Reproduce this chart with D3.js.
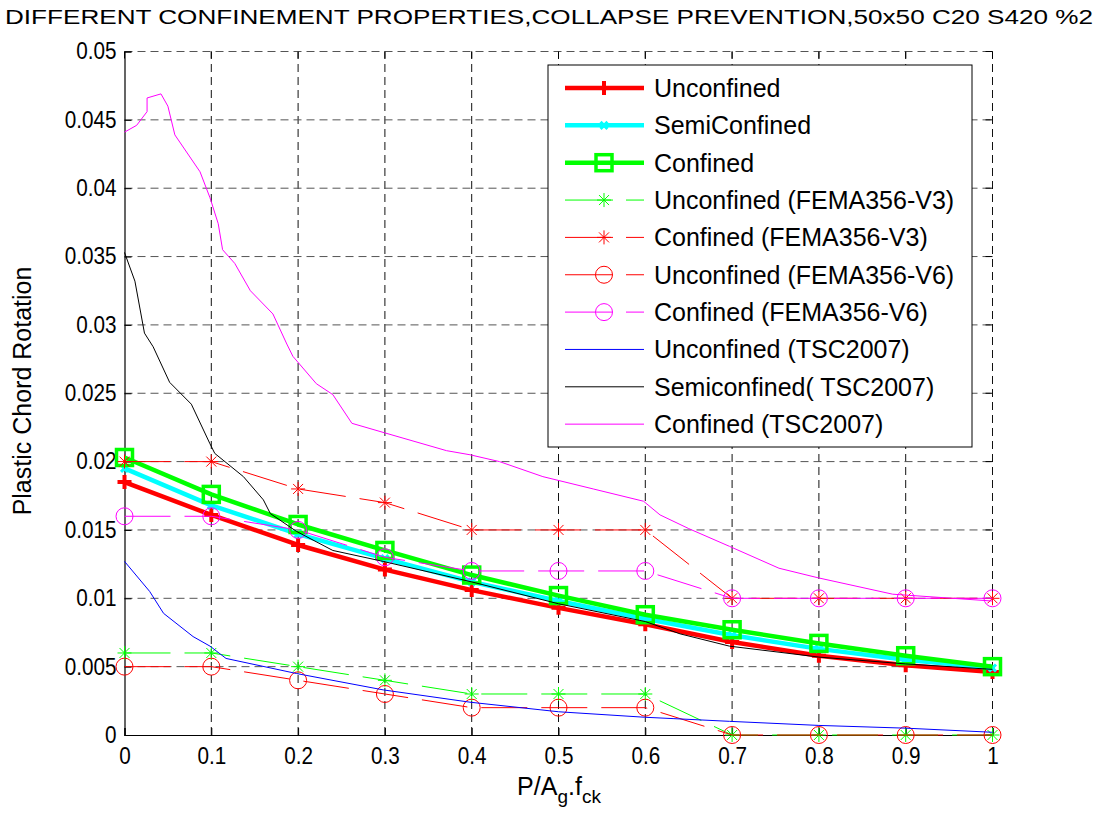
<!DOCTYPE html>
<html>
<head>
<meta charset="utf-8">
<script src="https://cdn.jsdelivr.net/npm/d3@7"></script>
<style>
  body { margin: 0; background: #fff; }
  svg { font-family: "Liberation Sans", Arial, sans-serif; }
</style>
</head>
<body>
<script>
// axial load ratio steps
const loadRatio = [0, 0.1, 0.2, 0.3, 0.4, 0.5, 0.6, 0.7, 0.8, 0.9, 1.0];

// analysis results
const unconfined   = [0.0185, 0.0161, 0.0139, 0.0121, 0.0106, 0.0093, 0.0081, 0.0068, 0.0058, 0.0051, 0.0046];
const semiConfined = [0.0195, 0.0168, 0.0147, 0.0129, 0.0112, 0.0098, 0.0085, 0.0073, 0.0063, 0.0055, 0.0049];
const confined     = [0.0203, 0.0176, 0.0154, 0.0135, 0.0117, 0.0102, 0.0088, 0.0077, 0.0067, 0.0058, 0.0050];

// FEMA356 limits
const femaV3Unconf = [0.006, 0.006, 0.005, 0.004, 0.003, 0.003, 0.003, 0, 0, 0, 0];
const femaV3Conf   = [0.020, 0.020, 0.018, 0.017, 0.015, 0.015, 0.015, 0.010, 0.010, 0.010, 0.010];
const femaV6Unconf = [0.005, 0.005, 0.004, 0.003, 0.002, 0.002, 0.002, 0, 0, 0, 0];
const femaV6Conf   = [0.016, 0.016, 0.015, 0.013, 0.012, 0.012, 0.012, 0.010, 0.010, 0.010, 0.010];

// TSC2007 curves [load ratio, rotation]
const tscUnconf = [[0,0.0127],[0.029,0.0105],[0.045,0.0089],[0.079,0.0072],[0.0985,0.0065],[0.117,0.0056],
  [0.198,0.0045],[0.298,0.0033],[0.398,0.0024],[0.50,0.0017],[0.599,0.0013],[0.632,0.0012],[0.697,0.0010],
  [0.80,0.0007],[0.90,0.0005],[1.0,0.0002]];
const tscSemi = [[0,0.0353],[0.012,0.0332],[0.023,0.0294],[0.033,0.0284],[0.052,0.0258],[0.077,0.0242],
  [0.0985,0.0213],[0.104,0.0206],[0.137,0.0189],[0.160,0.0172],[0.168,0.0162],[0.198,0.0149],[0.240,0.0135],
  [0.298,0.0127],[0.40,0.0112],[0.50,0.0096],[0.60,0.0083],[0.64,0.0074],[0.697,0.0065],[0.80,0.0057],
  [0.90,0.0052],[1.0,0.0048]];
const tscConf = [[0,0.0441],[0.014,0.0446],[0.026,0.0456],[0.026,0.0466],[0.042,0.0469],[0.050,0.0460],
  [0.058,0.0439],[0.087,0.0412],[0.0985,0.0393],[0.108,0.0374],[0.113,0.0355],[0.127,0.0345],[0.145,0.0325],
  [0.171,0.0308],[0.187,0.0286],[0.194,0.0277],[0.221,0.0257],[0.240,0.0249],[0.262,0.0228],[0.30,0.0221],
  [0.371,0.0208],[0.398,0.0205],[0.432,0.0200],[0.482,0.0189],[0.540,0.0180],[0.598,0.0171],[0.617,0.0161],
  [0.650,0.0151],[0.697,0.0138],[0.754,0.0122],[0.799,0.0115],[0.885,0.0103],[1.0,0.0098]];

const xTicks = [0, 0.1, 0.2, 0.3, 0.4, 0.5, 0.6, 0.7, 0.8, 0.9, 1];
const yTicks = [0, 0.005, 0.01, 0.015, 0.02, 0.025, 0.03, 0.035, 0.04, 0.045, 0.05];

const titleText = "DIFFERENT CONFINEMENT PROPERTIES,COLLAPSE PREVENTION,50x50 C20 S420 %2";

const width = 1105, height = 816;
const svg = d3.select('body').append('svg')
  .attr('width', width)
  .attr('height', height);

const x = d3.scaleLinear().domain([0, 1]).range([124.5, 992.5]);
const y = d3.scaleLinear().domain([0, 0.05]).range([735, 51.5]);

// grid
const grid = svg.append('g');
grid.selectAll('.vg').data(xTicks.slice(1)).enter().append('line')
  .attr('x1', d => x(d)).attr('x2', d => x(d))
  .attr('y1', y(0)).attr('y2', y(0.05))
  .attr('stroke', '#111').attr('stroke-dasharray', '8,5');
grid.selectAll('.hg').data(yTicks.slice(1)).enter().append('line')
  .attr('x1', x(0)).attr('x2', x(1))
  .attr('y1', d => y(d)).attr('y2', d => y(d))
  .attr('stroke', '#555').attr('stroke-dasharray', '8,5');

// axes (left + bottom solid, ticks inside, mirrored ticks top/right)
const sx = 0.9; // glyphs in the original are a bit narrow
const xAxis = d3.axisBottom(x).tickValues(xTicks).tickSize(-7).tickPadding(14)
  .tickFormat(d => d === 0 ? '0' : d === 1 ? '1' : d3.format('.1f')(d));
const yAxis = d3.axisLeft(y).tickValues(yTicks).tickSize(-7).tickPadding(14)
  .tickFormat(d => d === 0 ? '0' : String(+d.toFixed(3)));

const gx = svg.append('g').attr('transform', 'translate(0,' + y(0) + ')').call(xAxis);
const gy = svg.append('g').attr('transform', 'translate(' + x(0) + ',0)').call(yAxis);
[gx, gy].forEach(g => {
  g.select('.domain').attr('stroke', '#000').attr('stroke-width', 1.2);
  g.selectAll('.tick line').attr('stroke', '#000');
  g.selectAll('.tick text').attr('font-size', 23).attr('fill', '#000')
    .attr('font-family', '"Liberation Sans", Arial, sans-serif')
    .attr('transform', 'scale(' + sx + ',1)');
});
gx.selectAll('.tick text').attr('dy', '0.85em').attr('y', 9).attr('x', 0);
gy.selectAll('.tick text').attr('x', -8 / sx);

svg.append('g').selectAll('line').data(xTicks).enter().append('line')
  .attr('x1', d => x(d)).attr('x2', d => x(d))
  .attr('y1', y(0.05)).attr('y2', y(0.05) + 7).attr('stroke', '#000');
svg.append('g').selectAll('line').data(yTicks).enter().append('line')
  .attr('x1', x(1)).attr('x2', x(1) - 7)
  .attr('y1', d => y(d)).attr('y2', d => y(d)).attr('stroke', '#000');

// markers
function marker(g, type, cx, cy, color, sw) {
  if (type === 'plus') {
    g.append('path').attr('d', `M${cx-7},${cy}H${cx+7}M${cx},${cy-7}V${cy+7}`)
      .attr('stroke', color).attr('stroke-width', sw).attr('fill', 'none');
  } else if (type === 'x') {
    g.append('path').attr('d', `M${cx-3.5},${cy-3.5}L${cx+3.5},${cy+3.5}M${cx-3.5},${cy+3.5}L${cx+3.5},${cy-3.5}`)
      .attr('stroke', color).attr('stroke-width', sw).attr('fill', 'none');
  } else if (type === 'square') {
    g.append('rect').attr('x', cx - 8).attr('y', cy - 8).attr('width', 16).attr('height', 16)
      .attr('stroke', color).attr('stroke-width', sw).attr('fill', 'none');
  } else if (type === 'star') {
    const r = 7, q = 5;
    g.append('path').attr('d', `M${cx-r},${cy}H${cx+r}M${cx},${cy-r}V${cy+r}M${cx-q},${cy-q}L${cx+q},${cy+q}M${cx-q},${cy+q}L${cx+q},${cy-q}`)
      .attr('stroke', color).attr('stroke-width', sw).attr('fill', 'none');
  } else if (type === 'circle') {
    g.append('circle').attr('cx', cx).attr('cy', cy).attr('r', 8.5)
      .attr('stroke', color).attr('stroke-width', sw).attr('fill', 'none');
  }
}

const series = [
  { name: 'Unconfined', vals: unconfined, color: '#ff0000', w: 4.5, dash: null, mk: 'plus', mw: 4 },
  { name: 'SemiConfined', vals: semiConfined, color: '#00ffff', w: 4.5, dash: null, mk: 'x', mw: 3 },
  { name: 'Confined', vals: confined, color: '#00ff00', w: 4.5, dash: null, mk: 'square', mw: 3.5 },
  { name: 'Unconfined (FEMA356-V3)', vals: femaV3Unconf, color: '#00ff00', w: 1, dash: '46,14', mk: 'star', mw: 1 },
  { name: 'Confined (FEMA356-V3)', vals: femaV3Conf, color: '#ff0000', w: 1, dash: '46,14', mk: 'star', mw: 1 },
  { name: 'Unconfined (FEMA356-V6)', vals: femaV6Unconf, color: '#ff0000', w: 1, dash: '46,14', mk: 'circle', mw: 1 },
  { name: 'Confined (FEMA356-V6)', vals: femaV6Conf, color: '#ff00ff', w: 1, dash: '46,14', mk: 'circle', mw: 1 },
  { name: 'Unconfined (TSC2007)', pts: tscUnconf, color: '#0000ff', w: 1, dash: null, mk: null },
  { name: 'Semiconfined( TSC2007)', pts: tscSemi, color: '#000000', w: 1, dash: null, mk: null },
  { name: 'Confined (TSC2007)', pts: tscConf, color: '#ff00ff', w: 1, dash: null, mk: null }
];

const line = d3.line().x(d => x(d[0])).y(d => y(d[1]));
const plot = svg.append('g');
series.forEach(s => {
  const pts = s.pts || loadRatio.map((r, i) => [r, s.vals[i]]);
  plot.append('path').datum(pts)
    .attr('d', line)
    .attr('fill', 'none')
    .attr('stroke', s.color)
    .attr('stroke-width', s.w)
    .attr('stroke-linejoin', 'round')
    .attr('stroke-dasharray', s.dash);
  if (s.mk) {
    const mg = plot.append('g');
    pts.forEach(p => marker(mg, s.mk, x(p[0]), y(p[1]), s.color, s.mw));
  }
});

// legend
const leg = svg.append('g');
leg.append('rect').attr('x', 548).attr('y', 65).attr('width', 424).attr('height', 382)
  .attr('fill', '#fff').attr('stroke', '#000').attr('stroke-width', 1);
series.forEach((s, i) => {
  const cy = 88 + i * 37.35;
  leg.append('line').attr('x1', 565).attr('x2', 644).attr('y1', cy).attr('y2', cy)
    .attr('stroke', s.color).attr('stroke-width', s.w)
    .attr('stroke-dasharray', s.dash ? '48,13' : null);
  if (s.mk) marker(leg, s.mk, 604, cy, s.color, s.mw);
  leg.append('text').attr('x', 654).attr('y', cy + 9)
    .attr('font-size', 25).text(s.name);
});

// title and axis labels
svg.append('text').attr('x', 5).attr('y', 24)
  .attr('font-size', 20).attr('textLength', 1088).attr('lengthAdjust', 'spacingAndGlyphs')
  .text(titleText);

svg.append('text')
  .attr('transform', 'translate(31,391) rotate(-90)')
  .attr('text-anchor', 'middle').attr('font-size', 25)
  .text('Plastic Chord Rotation');

const xl = svg.append('text').attr('x', 559).attr('y', 795)
  .attr('text-anchor', 'middle').attr('font-size', 25);
xl.append('tspan').text('P/A');
xl.append('tspan').attr('font-size', 19).attr('dy', 8).text('g');
xl.append('tspan').attr('dy', -8).text('.f');
xl.append('tspan').attr('font-size', 19).attr('dy', 8).text('ck');
</script>
</body>
</html>
